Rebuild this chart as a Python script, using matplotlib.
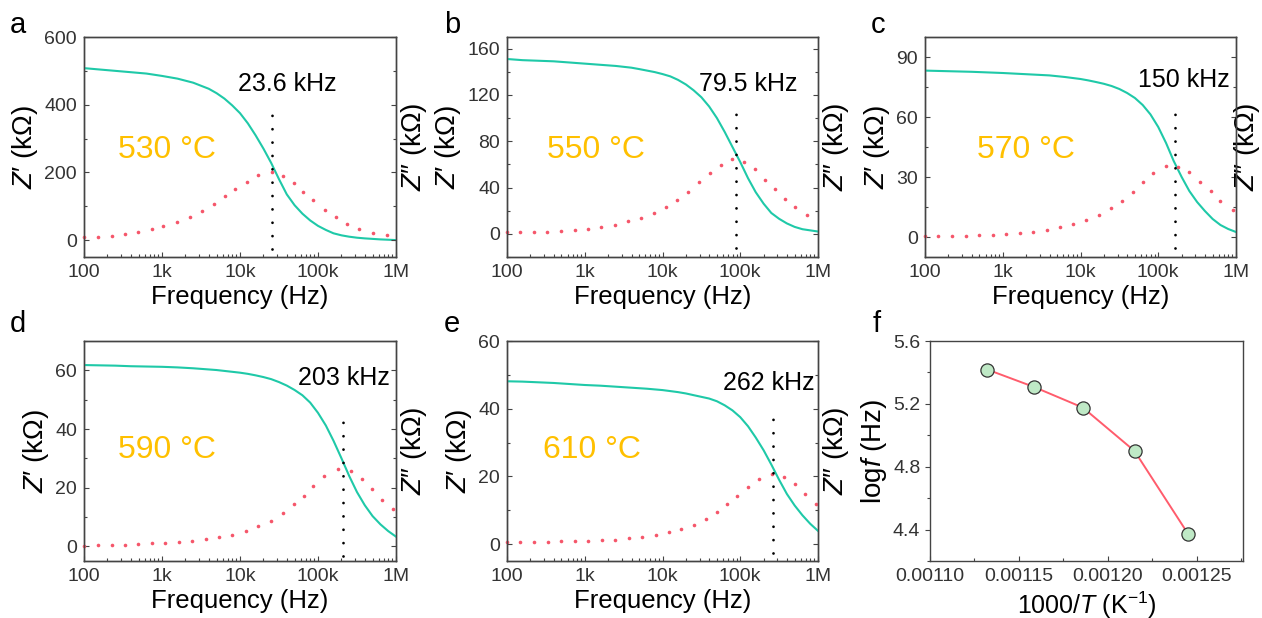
import numpy as np
import matplotlib
matplotlib.use('Agg')
import matplotlib.pyplot as plt
from matplotlib.ticker import MultipleLocator, LogLocator, FixedLocator, FixedFormatter, NullFormatter, FormatStrFormatter

# fonts
plt.rcParams['font.family'] = ['Liberation Sans', 'DejaVu Sans']
plt.rcParams['mathtext.fontset'] = 'custom'
plt.rcParams['mathtext.rm'] = 'Liberation Sans'
plt.rcParams['mathtext.it'] = 'Liberation Sans:italic'

# frequency grid of the Z' curves (Hz)
f_line = [100, 158, 251, 398, 631, 1000, 1580, 2510, 3980, 5010, 6310, 7940, 10000, 12600, 15800, 20000,
          25100, 31600, 39800, 50100, 63100, 79400, 100000, 126000, 158000, 200000, 251000, 316000, 398000,
          501000, 631000, 794000, 1000000]

# Z' (kOhm) per temperature
zre_530 = [508, 504, 500, 496, 492, 485, 477, 465, 447, 434, 418, 398, 375, 345, 310, 270, 228, 180, 135, 103,
           78, 58, 42, 30, 20, 14, 10, 7, 5, 3.5, 2, 1, 0]
zre_550 = [151, 150, 149.5, 149, 148, 147, 146, 145, 143.5, 142.3, 141, 139.7, 138, 136, 133, 129, 124, 118,
           110, 100, 88, 75, 62, 48, 36, 26, 18, 13, 9, 6, 4, 3, 2]
zre_570 = [83.2, 83, 82.8, 82.6, 82.3, 82, 81.6, 81.2, 80.8, 80.4, 80, 79.5, 79, 78.3, 77.5, 76.6, 75.5, 74, 72,
           69.5, 66, 61.3, 55, 47, 38, 30, 23, 17.5, 13, 9, 6, 4, 2.5]
zre_590 = [61.8, 61.7, 61.6, 61.4, 61.3, 61.2, 61, 60.7, 60.3, 60.1, 59.8, 59.5, 59.2, 58.8, 58.3, 57.7, 57, 56,
           54.8, 53.3, 51.5, 49, 45.5, 41.2, 36, 30, 24, 18.5, 14, 10.3, 7.5, 5.2, 3.3]
zre_610 = [48.1, 48, 47.8, 47.6, 47.3, 47, 46.8, 46.5, 46.2, 46.05, 45.9, 45.7, 45.5, 45.2, 44.9, 44.5, 44, 43.5,
           43, 42.2, 41, 39.5, 37.5, 34.8, 31.5, 27.7, 23.5, 19, 14.8, 11.4, 8.5, 6, 3.9]

# Z'' (kOhm) dots and their frequencies (Hz)
f_dots_530 = [100, 150, 226, 336, 498, 738, 1040, 1540, 2290, 3260, 4650, 6360, 8710, 12200, 16800, 25400,
              35900, 49200, 64900, 87100, 123000, 168000, 233000, 339000, 512000, 759000]
zim_530 = [8, 10, 13, 17, 23, 32, 42, 54, 69, 87, 107, 129, 150, 173, 193, 200, 189, 169, 143, 117, 88, 67,
           47, 32, 22, 14]
f_dots_550 = [100, 149, 220, 327, 491, 743, 1100, 1640, 2430, 3610, 5310, 7730, 11100, 15500, 21200, 29900,
              40300, 55800, 78900, 111000, 153000, 208000, 279000, 376000, 506000, 715000]
zim_550 = [1.5, 1.7, 1.7, 1.7, 2.3, 3.5, 4.3, 6.1, 7.8, 10.7, 13.8, 18.2, 23.1, 28.8, 36.3, 44.7, 52.2, 59.7,
           64.8, 62.2, 56.2, 46.9, 38.3, 30.5, 23.1, 16.7]
f_dots_570 = [100, 148, 224, 333, 499, 741, 1100, 1660, 2470, 3660, 5440, 8070, 11600, 17100, 24700, 33800,
              46900, 64300, 86500, 126000, 181000, 251000, 344000, 471000, 621000, 923000]
zim_570 = [0.3, 0.3, 0.3, 0.3, 0.8, 1.2, 1.5, 1.8, 2.5, 3.7, 4.8, 6.5, 8.5, 11, 14.3, 18.2, 22.5, 27.3, 31.8,
           35.7, 35.2, 32.3, 27.7, 22.8, 18.2, 13.3]
f_dots_590 = [100, 150, 226, 336, 498, 738, 1090, 1650, 2450, 3630, 5380, 7980, 11800, 16800, 24700, 36000,
              49200, 66200, 87100, 121000, 179000, 262000, 363000, 488000, 655000, 906000]
zim_590 = [0.2, 0.6, 0.6, 0.6, 0.7, 1.0, 1.1, 1.4, 1.8, 2.4, 3.1, 4.0, 5.2, 6.9, 8.8, 11.3, 14.3, 17.2, 20.4,
           23.9, 26.3, 25.6, 23.1, 19.7, 15.9, 12.7]
f_dots_610 = [100, 148, 225, 333, 500, 741, 1100, 1650, 2470, 3670, 5460, 8180, 12000, 17500, 25200, 36000,
              50200, 67600, 91000, 125000, 173000, 256000, 362000, 512000, 689000, 933000]
zim_610 = [0.5, 0.5, 0.6, 0.6, 0.9, 0.8, 0.9, 1.2, 1.3, 1.7, 2.0, 2.7, 3.6, 4.4, 5.6, 7.4, 9.5, 11.7, 14.1,
           16.8, 19.1, 20.7, 19.8, 17.7, 14.8, 11.9]

temps = ['530 °C', '550 °C', '570 °C', '590 °C', '610 °C']
peak_labels = ['23.6 kHz', '79.5 kHz', '150 kHz', '203 kHz', '262 kHz']
# where the dotted marker line is drawn (Hz) and its vertical span (kOhm)
f_mark = [25400, 89000, 164000, 211000, 264000]
mark_lo = [-25, -12, -5.5, -3.2, -2.6]
mark_hi = [390, 106, 63, 43, 37.7]

# panel f
inv_T = [0.0011323, 0.0011586, 0.0011860, 0.0012150, 0.0012451]
log_f = [5.418, 5.307, 5.176, 4.900, 4.373]

xtick_vals = [100, 1000, 10000, 100000, 1000000]
xtick_text = ['100', '1k', '10k', '100k', '1M']

teal = '#1fc9a8'
red = '#f5566a'
gold = '#ffc000'
spine_c = '#444444'
tick_c = '#333333'

W, H = 1262, 618
fig = plt.figure(figsize=(W / 100, H / 100), dpi=100)


def box(l, t, r, b):
    return [l / W, 1 - b / H, (r - l) / W, (b - t) / H]


def style_ticks(a):
    a.tick_params(which='major', length=3.5, width=0.8)
    a.tick_params(which='minor', length=2, width=0.8)
    for s in a.spines.values():
        s.set_color(spine_c)
        s.set_linewidth(1.0)


panels = [
    dict(rect=box(84, 37, 396, 257), zre=zre_530, fd=f_dots_530, zim=zim_530, ylim=(-50, 600), step=200,
         letter='a', lpos=(10, 33), tpos=(0.109, 0.451), kpos=(0.494, 0.755), rpad=2),
    dict(rect=box(507, 37, 818, 257), zre=zre_550, fd=f_dots_550, zim=zim_550, ylim=(-20, 170), step=40,
         letter='b', lpos=(444, 33), tpos=(0.13, 0.451), kpos=(0.618, 0.755), rpad=2),
    dict(rect=box(925, 37, 1236, 257), zre=zre_570, fd=f_dots_570, zim=zim_570, ylim=(-10, 100), step=30,
         letter='c', lpos=(871, 33), tpos=(0.167, 0.451), kpos=(0.685, 0.774), rpad=-3),
    dict(rect=box(84, 341, 396, 561), zre=zre_590, fd=f_dots_590, zim=zim_590, ylim=(-5, 70), step=20,
         letter='d', lpos=(10, 332), tpos=(0.109, 0.467), kpos=(0.686, 0.799), rpad=2),
    dict(rect=box(507, 341, 818, 561), zre=zre_610, fd=f_dots_610, zim=zim_610, ylim=(-5, 60), step=20,
         letter='e', lpos=(444, 332), tpos=(0.117, 0.467), kpos=(0.695, 0.776), rpad=2),
]

for i, p in enumerate(panels):
    ax = fig.add_axes(p['rect'])
    ax.plot(f_line, p['zre'], color=teal, lw=1.5, zorder=3)
    ax.plot(p['fd'], p['zim'], ls='none', marker='o', ms=2.6, color=red, mec='none', zorder=4, clip_on=False)
    ax.plot([f_mark[i], f_mark[i]], [mark_lo[i], mark_hi[i]], color='black', lw=2.0,
            ls=(0, (0.01, 4.8)), dash_capstyle='round', zorder=5)
    ax.set_xscale('log')
    ax.set_xlim(100, 1e6)
    ax.set_ylim(*p['ylim'])
    ax.xaxis.set_major_locator(FixedLocator(xtick_vals))
    ax.xaxis.set_major_formatter(FixedFormatter(xtick_text))
    ax.xaxis.set_minor_locator(LogLocator(base=10, subs=np.arange(2, 10)))
    ax.xaxis.set_minor_formatter(NullFormatter())
    ax.yaxis.set_major_locator(MultipleLocator(p['step']))
    ax.yaxis.set_minor_locator(MultipleLocator(p['step'] / 2))
    ax.yaxis.set_major_formatter(FormatStrFormatter('%d'))
    ax.tick_params(which='both', direction='in', colors=spine_c, labelcolor=tick_c, labelsize=14, pad=5)
    ax.tick_params(axis='x', which='both', top=False)
    style_ticks(ax)
    ax.set_xlabel('Frequency (Hz)', fontsize=18.5, labelpad=3)
    ax.set_ylabel('$Z$′ (kΩ)', fontsize=20, labelpad=3)

    # right axis for Z''
    tw = ax.twinx()
    tw.set_ylim(*p['ylim'])
    tw.yaxis.set_major_locator(MultipleLocator(p['step']))
    tw.yaxis.set_minor_locator(MultipleLocator(p['step'] / 2))
    tw.tick_params(which='both', direction='in', colors=spine_c, labelright=False)
    style_ticks(tw)
    tw.set_ylabel('$Z$″ (kΩ)', fontsize=20, labelpad=p['rpad'])

    ax.text(*p['tpos'], temps[i], transform=ax.transAxes, color=gold, fontsize=23, va='baseline')
    ax.text(*p['kpos'], peak_labels[i], transform=ax.transAxes, color='black', fontsize=18, va='baseline')
    fig.text(p['lpos'][0] / W, 1 - p['lpos'][1] / H, p['letter'], fontsize=21, va='baseline')

# panel f: peak frequency against inverse temperature
axf = fig.add_axes(box(930, 341, 1243, 561))
axf.plot(inv_T, log_f, color='#ff5c6c', lw=1.4, zorder=2)
axf.plot(inv_T, log_f, ls='none', marker='o', ms=9.5, mfc='#bfe9c6', mec='#333333', mew=0.9, zorder=3)
axf.set_xlim(0.0011, 0.001276)
axf.set_ylim(4.2, 5.6)
axf.xaxis.set_major_locator(MultipleLocator(0.00005))
axf.xaxis.set_minor_locator(MultipleLocator(0.000025))
axf.xaxis.set_major_formatter(FormatStrFormatter('%.5f'))
axf.yaxis.set_major_locator(MultipleLocator(0.4))
axf.yaxis.set_minor_locator(MultipleLocator(0.2))
axf.yaxis.set_major_formatter(FormatStrFormatter('%.1f'))
axf.tick_params(which='both', colors=spine_c, labelcolor=tick_c, labelsize=14)
axf.tick_params(axis='x', which='both', direction='in', pad=5)
axf.tick_params(axis='y', which='both', direction='out')
style_ticks(axf)
axf.set_xlabel('1000/$T$ (K$^{-1}$)', fontsize=18, labelpad=3)
axf.set_ylabel('log$f$ (Hz)', fontsize=20, labelpad=3)
fig.text(873 / W, 1 - 332 / H, 'f', fontsize=21, va='baseline')

fig.savefig('out.png', dpi=100)
